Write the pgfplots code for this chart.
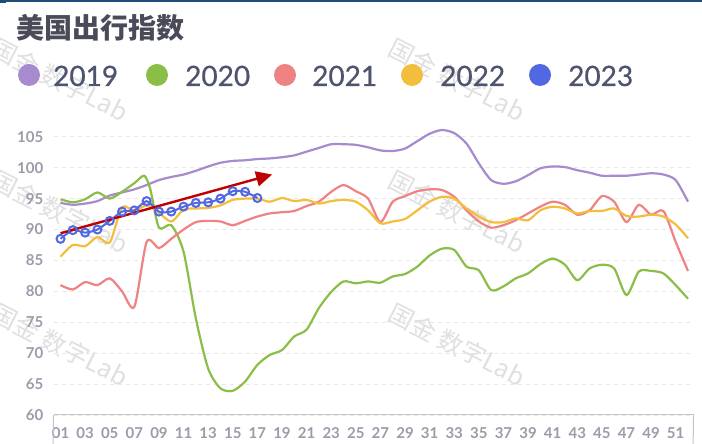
\documentclass[border=0pt]{standalone}
\usepackage{pgfplots}
\pgfplotsset{compat=1.18}
\usepackage{fontspec}
\setmainfont{Lato}
\newfontfamily\legfont{Lato}[FakeBold=0.6]
\newfontfamily\cjk{Noto Sans CJK SC}
\usetikzlibrary{arrows.meta}
\definecolor{c19}{HTML}{A78BCF}
\definecolor{c20}{HTML}{8BBE47}
\definecolor{c21}{HTML}{EF8282}
\definecolor{c22}{HTML}{F3BE3C}
\definecolor{c23}{HTML}{5268E2}
\definecolor{tickc}{HTML}{9A9CAB}
\definecolor{legc}{HTML}{4E5370}
\definecolor{titlec}{HTML}{4A4B59}
\definecolor{topline}{HTML}{1F4E79}
\definecolor{arrowc}{HTML}{C00000}
\begin{document}
\begin{tikzpicture}[x=1bp,y=1bp]
\fill[white] (0,0) rectangle (702,444);
\useasboundingbox (0,0) rectangle (702,444);
\draw[topline, line width=1.5bp] (0,443.2) -- (702,443.2);
\fill[topline] (0,441) rectangle (6,444);
% watermarks
\foreach \x/\y in {60/364, 457/364, 60/232, 457/232, 60/99, 457/99} {
  \node[rotate=-27, text=black!12, inner sep=0pt, font=\cjk\fontsize{25bp}{25bp}\selectfont] at (\x,\y) {国金 数字Lab};
}
% title
\node[anchor=west, inner sep=0pt, text=titlec, font=\cjk\bfseries\fontsize{28bp}{28bp}\selectfont] at (16,416) {美国出行指数};
% legend
\foreach \cx/\tx/\c/\lab in {29/53/c19/2019, 157/185/c20/2020, 285/312/c21/2021, 412/440/c22/2022, 540/568/c23/2023} {
  \fill[\c] (\cx,369) circle (11);
  \node[anchor=base west, inner sep=0pt, text=legc, font=\legfont\fontsize{28bp}{28bp}\selectfont] at (\tx,358) {\lab};
}
\begin{axis}[
  at={(43.5,47)}, anchor=south west, scale only axis,
  width=640bp, height=290.5bp,
  xmin=0.43, xmax=52.45, ymin=60, ymax=107,
  axis lines*=left,
  y axis line style={draw=none},
  x axis line style={draw=tickc!60, line width=1bp, -},
  major tick length=0pt,
  ytick={60,65,...,105},
  xtick={1,3,...,51},
  xticklabels={01,03,05,07,09,11,13,15,17,19,21,23,25,27,29,31,33,35,37,39,41,43,45,47,49,51},
  /pgf/number format/assume math mode=true,
  tick label style={font=\bfseries\fontsize{15bp}{15bp}\selectfont, text=tickc},
  yticklabel style={anchor=east, inner sep=0pt, xshift=-10bp},
  xticklabel style={anchor=north, inner sep=0pt, yshift=-12bp},
  ymajorgrids, grid style={dash pattern=on 4bp off 4bp, draw=black!9, line width=0.8bp},
  clip=false,
  every axis plot/.append style={line width=2.2bp, smooth, tension=0.45},
]
\draw[tickc!60, line width=1bp] (rel axis cs:0,0) -- ++(0,-8bp);
\draw[tickc!60, line width=1bp] (rel axis cs:1,0) -- ++(0,-8bp);
% 2019
\addplot[c19] coordinates {(1,94.3)(2,94.0)(3,94.2)(4,94.6)(5,95.5)(6,96.0)(7,96.5)(8,97.2)(9,98.0)(10,98.5)(11,98.9)(12,99.5)(13,100.2)(14,100.8)(15,101.1)(16,101.2)(17,101.4)(18,101.5)(19,101.7)(20,102.0)(21,102.6)(22,103.2)(23,103.8)(24,103.8)(25,103.7)(26,103.3)(27,102.8)(28,102.7)(29,103.1)(30,104.3)(31,105.5)(32,106.1)(33,105.6)(34,103.9)(35,100.7)(36,98.0)(37,97.4)(38,97.8)(39,98.8)(40,99.9)(41,100.2)(42,100.1)(43,99.6)(44,99.2)(45,98.7)(46,98.7)(47,98.7)(48,98.9)(49,99.1)(50,98.9)(51,98.0)(52,94.5)};
% 2020
\addplot[c20] coordinates {(1,94.9)(2,94.4)(3,94.9)(4,96.0)(5,95.0)(6,96.1)(7,97.5)(7.8,98.7)(8.3,96.5)(9,90.3)(10,90.7)(11,86.4)(12,75.6)(13,67.5)(14,64.3)(15,63.9)(16,65.4)(17,68.1)(18,69.7)(19,70.5)(20,72.7)(21,73.8)(22,77.3)(23,79.9)(24,81.6)(25,81.3)(26,81.6)(27,81.4)(28,82.4)(29,82.8)(30,84.0)(31,85.8)(32,86.9)(33,86.7)(34,84.0)(35,83.4)(36,80.2)(37,80.8)(38,82.1)(39,82.9)(40,84.4)(41,85.3)(42,84.3)(43,81.8)(44,83.7)(45,84.3)(46,83.7)(47,79.4)(48,83.2)(49,83.3)(50,82.9)(51,81.0)(52,78.8)};
% 2021
\addplot[c21] coordinates {(1,81.0)(2,80.3)(3,81.5)(4,81.0)(5,82.1)(6,80.0)(7,77.5)(8,88.0)(9,87.0)(10,88.5)(11,90.0)(12,91.2)(13,91.4)(14,91.3)(15,90.7)(16,91.4)(17,92.1)(18,92.6)(19,92.8)(20,93.0)(21,93.8)(22,94.5)(23,96.1)(24,97.2)(25,96.2)(26,95.0)(27,91.2)(28,94.5)(29,95.4)(30,96.2)(31,96.5)(32,96.4)(33,95.3)(34,93.1)(35,91.3)(36,90.3)(37,90.7)(38,91.5)(39,92.6)(40,93.7)(41,94.5)(42,94.0)(43,92.4)(44,93.1)(45,95.4)(46,94.5)(47,91.2)(48,94.0)(49,92.4)(50,93.0)(51,88.0)(52,83.3)};
% 2022
\addplot[c22] coordinates {(1,85.6)(2,87.5)(3,87.3)(4,88.8)(5,87.9)(6,93.6)(7,93.0)(8,93.9)(9,92.7)(10,91.3)(11,93.2)(12,93.4)(13,93.5)(14,93.9)(15,94.8)(16,95.0)(17,95.0)(18,94.5)(19,95.1)(20,94.6)(21,94.8)(22,94.2)(23,94.6)(24,94.8)(25,94.5)(26,93.1)(27,91.0)(28,91.3)(29,91.7)(30,93.1)(31,94.5)(32,95.3)(33,95.0)(34,93.4)(35,92.1)(36,91.2)(37,91.2)(38,91.8)(39,91.5)(40,93.1)(41,93.7)(42,93.4)(43,92.6)(44,93.0)(45,93.0)(46,93.4)(47,92.2)(48,92.1)(49,92.4)(50,92.1)(51,90.8)(52,88.6)};
% 2023
\addplot[c23, line width=2bp, mark=o, mark size=4bp, mark options={fill=white, line width=2bp, solid}] coordinates {(1,88.5)(2,89.9)(3,89.5)(4,90.0)(5,91.4)(6,92.9)(7,93.1)(8,94.6)(9,92.9)(10,92.9)(11,93.7)(12,94.3)(13,94.4)(14,95.0)(15,96.2)(16,96.1)(17,95.1)};
% arrow
\addplot[arrowc, line width=2.4bp, sharp plot, -{Triangle[length=16bp,width=15bp]}] coordinates {(1,89.4)(18.2,98.9)};
\end{axis}
\end{tikzpicture}
\end{document}
